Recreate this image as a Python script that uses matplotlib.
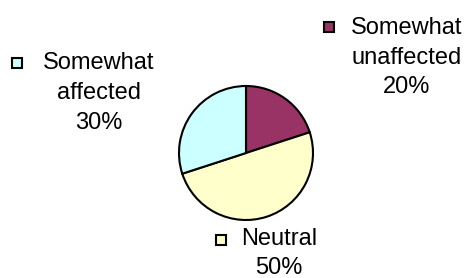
import matplotlib
matplotlib.use("Agg")
import matplotlib.pyplot as plt
from matplotlib.lines import Line2D

categories = ["Somewhat unaffected", "Neutral", "Somewhat affected"]
values = [20, 50, 30]
colors = ["#993366", "#FFFFCC", "#CCFFFF"]

W, H = 477, 278
plt.rcParams['font.family'] = ['Liberation Sans', 'DejaVu Sans']
fig = plt.figure(figsize=(W / 100, H / 100), dpi=100)

def fx(px):
    return px / W

def fy(py):
    return 1 - py / H

cx, cy, r = 246, 153, 67
pad = 2
ax = fig.add_axes([fx(cx - r - pad), fy(cy + r + pad), (2 * (r + pad)) / W, (2 * (r + pad)) / H])
ax.pie(values, colors=colors, startangle=90, counterclock=False,
       wedgeprops=dict(edgecolor="black", linewidth=1.5))
lim = (r + pad) / r
ax.set_xlim(-lim, lim)
ax.set_ylim(-lim, lim)
ax.set_aspect("equal")
ax.axis("off")

fs = 17
# label layouts: (key x, key y, text center x, first line y, line spacing)
layouts = {
    "Somewhat unaffected": (329, 27, 407, 28, 29.5),
    "Somewhat affected": (17, 63, 99, 63, 30),
    "Neutral": (221, 239.5, 279, 239, 29),
}
for cat, val, col in zip(categories, values, colors):
    kx, ky, tx, ty, ls = layouts[cat]
    lines = cat.split(" ") + [f"{val}%"]
    fig.add_artist(Line2D([fx(kx)], [fy(ky)], marker="s", markersize=7.5,
                          markerfacecolor=col, markeredgecolor="black",
                          markeredgewidth=1.5, transform=fig.transFigure))
    for i, ln in enumerate(lines):
        fig.text(fx(tx), fy(ty + i * ls), ln, ha="center", va="center",
                 fontsize=fs, color="black")

fig.savefig("out.png", dpi=100, facecolor="white")
